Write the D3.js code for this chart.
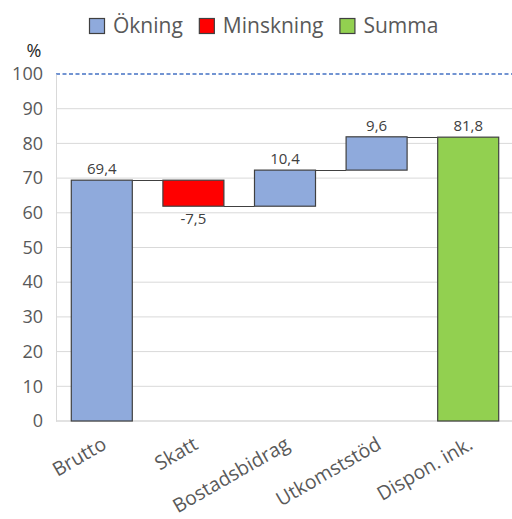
<!DOCTYPE html>
<html>
<head>
<meta charset="utf-8">
<script src="https://cdn.jsdelivr.net/npm/d3@7"></script>
<style>
  html, body { margin: 0; padding: 0; background: #fff; }
  svg { display: block; font-family: "Open Sans", "Noto Sans", sans-serif; }
</style>
</head>
<body>
<svg id="chart" width="512" height="519"></svg>
<script>
// Waterfall: gross income down to disposable income (% of reference)
const categories = ["Brutto", "Skatt", "Bostadsbidrag", "Utkomststöd", "Dispon. ink."];
const changes = [69.4, -7.5, 10.4, 9.6, 81.8];
const kinds = ["okning", "minskning", "okning", "okning", "summa"];
const valueLabels = ["69,4", "-7,5", "10,4", "9,6", "81,8"];
const yTicks = [0, 10, 20, 30, 40, 50, 60, 70, 80, 90, 100];
const legendItems = [
  { key: "okning", label: "Ökning" },
  { key: "minskning", label: "Minskning" },
  { key: "summa", label: "Summa" }
];
const referenceLine = 100;

const colors = { okning: "#8faadc", minskning: "#ff0000", summa: "#92d050" };
const textColor = "#595959";

const svg = d3.select("#chart");
const margin = { left: 56, right: -2, top: 74, bottom: 98 };
const W = 512, H = 519;

const x = d3.scaleBand()
  .domain(categories)
  .range([margin.left, W - margin.right])
  .paddingInner(0.334)
  .paddingOuter(0.167);

const y = d3.scaleLinear().domain([0, 100]).range([H - margin.bottom, margin.top]);

// Running totals for floating bars
let run = 0;
const bars = categories.map((c, i) => {
  let start, end;
  if (kinds[i] === "summa") { start = 0; end = changes[i]; run = end; }
  else { start = run; end = run + changes[i]; run = end; }
  return { cat: c, start, end, kind: kinds[i], label: valueLabels[i], value: changes[i] };
});

// Gridlines
svg.append("g")
  .selectAll("line")
  .data(yTicks.filter(t => t > 0 && t < 100))
  .join("line")
  .attr("x1", margin.left).attr("x2", W)
  .attr("y1", d => y(d)).attr("y2", d => y(d))
  .attr("stroke", "#d9d9d9").attr("stroke-width", 1);

// Reference line at 100
svg.append("line")
  .attr("x1", margin.left).attr("x2", W)
  .attr("y1", y(referenceLine)).attr("y2", y(referenceLine))
  .attr("stroke", "#4472c4").attr("stroke-width", 1.3)
  .attr("stroke-dasharray", "4,2.5");

// Y axis
const yAxis = svg.append("g")
  .attr("transform", `translate(${margin.left},0)`)
  .call(d3.axisLeft(y).tickValues(yTicks).tickSize(0).tickPadding(13));
yAxis.select(".domain").attr("stroke", "#d9d9d9");
yAxis.selectAll("text").attr("fill", textColor).style("font-size", "18px")
  .style("font-family", "'Open Sans', sans-serif");

// X axis baseline
svg.append("line")
  .attr("x1", margin.left).attr("x2", W)
  .attr("y1", y(0)).attr("y2", y(0))
  .attr("stroke", "#d9d9d9").attr("stroke-width", 1.3);

// Connectors between bars
const conn = [];
for (let i = 0; i < bars.length - 1; i++) {
  conn.push({ from: bars[i], to: bars[i + 1], level: bars[i].end });
}
svg.append("g")
  .selectAll("line")
  .data(conn)
  .join("line")
  .attr("x1", d => x(d.from.cat) + x.bandwidth())
  .attr("x2", d => x(d.to.cat))
  .attr("y1", d => Math.round(y(d.level)) + 0.5)
  .attr("y2", d => Math.round(y(d.level)) + 0.5)
  .attr("stroke", "#404040").attr("stroke-width", 1);

// Bars
svg.append("g")
  .selectAll("rect")
  .data(bars)
  .join("rect")
  .attr("x", d => x(d.cat))
  .attr("width", x.bandwidth())
  .attr("y", d => y(Math.max(d.start, d.end)))
  .attr("height", d => Math.abs(y(d.start) - y(d.end)))
  .attr("fill", d => colors[d.kind])
  .attr("stroke", "#404040").attr("stroke-width", 1.2);

// Value labels
svg.append("g")
  .selectAll("text")
  .data(bars)
  .join("text")
  .attr("x", d => x(d.cat) + x.bandwidth() / 2)
  .attr("y", d => d.value < 0 ? y(Math.min(d.start, d.end)) + 18 : y(Math.max(d.start, d.end)) - 6)
  .attr("text-anchor", "middle")
  .attr("fill", "#404040")
  .style("font-size", "15px")
  .text(d => d.label);

// Category labels, rotated
svg.append("g")
  .selectAll("text")
  .data(categories)
  .join("text")
  .attr("transform", d => `translate(${x(d) + x.bandwidth() / 2 + 6},${y(0) + 27}) rotate(-30)`)
  .attr("text-anchor", "end")
  .attr("fill", textColor)
  .style("font-size", "19.5px")
  .text(d => d);

// Unit label
svg.append("text")
  .attr("x", 34).attr("y", 57)
  .attr("text-anchor", "middle")
  .attr("fill", "#262626")
  .style("font-size", "18px")
  .text("%");

// Legend
const legend = svg.append("g");
let lx = 89;
const legendY = 26;
legendItems.forEach(item => {
  legend.append("rect")
    .attr("x", lx + 0.5).attr("y", legendY - 7.5)
    .attr("width", 15).attr("height", 15)
    .attr("fill", colors[item.key])
    .attr("stroke", "#404040").attr("stroke-width", 1.2);
  const t = legend.append("text")
    .attr("x", lx + 24).attr("y", legendY)
    .attr("dy", "0.35em")
    .attr("fill", textColor)
    .style("font-size", "21px")
    .text(item.label);
  lx += 24 + t.node().getComputedTextLength() + 16;
});
</script>
</body>
</html>
